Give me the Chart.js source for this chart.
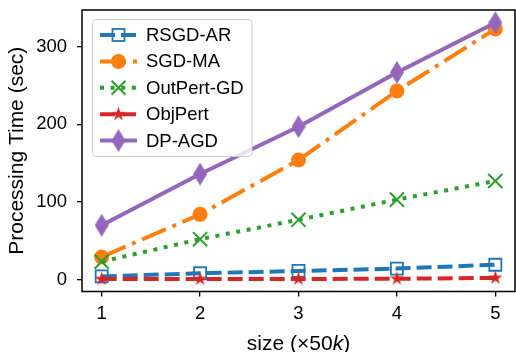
<!DOCTYPE html>
<html>
<head>
<meta charset="utf-8">
<script src="https://cdn.jsdelivr.net/npm/chart.js@4.4.1/dist/chart.umd.min.js"></script>
<style>
  body { margin: 0; background: #fff; }
  #wrap { width: 516px; height: 352px; }
</style>
</head>
<body>
<div id="wrap"><canvas id="timeChart" width="516" height="352"></canvas></div>
<script>
// data
var sizes = [1, 2, 3, 4, 5];
var xTicks = [1, 2, 3, 4, 5];
var yTicks = [0, 100, 200, 300];
var seriesNames = ['RSGD-AR', 'SGD-MA', 'OutPert-GD', 'ObjPert', 'DP-AGD'];
var rsgdAr = [4, 8, 11, 14, 19];
var sgdMa = [29, 84, 154, 243, 323];
var outPertGd = [23, 52, 77, 103, 127];
var objPert = [0.5, 0.6, 0.7, 0.9, 2];
var dpAgd = [70, 136, 197, 267, 331];

var FONT = '"Liberation Sans", Arial, Helvetica, sans-serif';
var colors = ['#1f77b4', '#ff7f0e', '#2ca02c', '#d62728', '#9467bd'];
var dashes = [[15, 6], [26, 7, 4, 7], [4, 6.6], [15, 6], []];

// filled star marker (matplotlib '*')
function makeStar(color, r){
	var s = Math.ceil(2 * r + 2);
	var c = document.createElement('canvas');
	c.width = s; c.height = s;
	var g = c.getContext('2d');
	g.fillStyle = color;
	g.beginPath();
	for (var i = 0; i < 10; i++) {
		var rad = (i % 2 == 0) ? r : r * 0.382;
		var a = -Math.PI / 2 + i * Math.PI / 5;
		var px = s / 2 + rad * Math.cos(a), py = s / 2 + rad * Math.sin(a);
		if (i == 0) g.moveTo(px, py); else g.lineTo(px, py);
	}
	g.closePath();
	g.fill();
	return c;
}
// thin diamond marker (matplotlib 'd')
function makeDiamond(color, w, h){
	var c = document.createElement('canvas');
	c.width = w; c.height = h;
	var g = c.getContext('2d');
	g.fillStyle = color;
	g.beginPath();
	g.moveTo(w / 2, 0); g.lineTo(w, h / 2); g.lineTo(w / 2, h); g.lineTo(0, h / 2);
	g.closePath();
	g.fill();
	return c;
}
var starImg = makeStar(colors[3], 7.5);
var diamondImg = makeDiamond(colors[4], 14, 23);

function toPts(ys){
	return sizes.map(function(x, i){ return {x: x, y: ys[i]}; });
}

var chartData = {
	datasets: [
		{label: seriesNames[0], data: toPts(rsgdAr), borderColor: colors[0], borderDash: dashes[0],
		 pointStyle: 'rect', pointRadius: 8.5, pointBorderWidth: 1.8, pointBackgroundColor: 'rgba(0,0,0,0)', pointBorderColor: colors[0], order: 5},
		{label: seriesNames[1], data: toPts(sgdMa), borderColor: colors[1], borderDash: dashes[1],
		 pointStyle: 'circle', pointRadius: 7.5, pointBorderWidth: 0, pointBackgroundColor: colors[1], order: 4},
		{label: seriesNames[2], data: toPts(outPertGd), borderColor: colors[2], borderDash: dashes[2],
		 pointStyle: 'crossRot', pointRadius: 10, pointBorderWidth: 2, pointBorderColor: colors[2], order: 3},
		{label: seriesNames[3], data: toPts(objPert), borderColor: colors[3], borderDash: dashes[3],
		 pointStyle: starImg, pointRadius: 8, order: 2},
		{label: seriesNames[4], data: toPts(dpAgd), borderColor: colors[4], borderDash: dashes[4],
		 pointStyle: diamondImg, pointRadius: 12, order: 1}
	]
};
chartData.datasets.forEach(function(d){
	d.borderWidth = 4;
	d.fill = false;
	d.tension = 0;
	d.borderCapStyle = 'butt';
	d.borderJoinStyle = 'round';
});

function drawMarker(ctx, i, x, y){
	ctx.save();
	ctx.setLineDash([]);
	if (i == 0) {
		ctx.strokeStyle = colors[0]; ctx.lineWidth = 1.8;
		ctx.strokeRect(x - 6, y - 6, 12, 12);
	} else if (i == 1) {
		ctx.fillStyle = colors[1];
		ctx.beginPath(); ctx.arc(x, y, 7.5, 0, Math.PI * 2); ctx.fill();
	} else if (i == 2) {
		ctx.strokeStyle = colors[2]; ctx.lineWidth = 2;
		ctx.beginPath();
		ctx.moveTo(x - 7, y - 7); ctx.lineTo(x + 7, y + 7);
		ctx.moveTo(x + 7, y - 7); ctx.lineTo(x - 7, y + 7);
		ctx.stroke();
	} else if (i == 3) {
		ctx.drawImage(starImg, x - starImg.width / 2, y - starImg.height / 2);
	} else {
		ctx.drawImage(diamondImg, x - diamondImg.width / 2, y - diamondImg.height / 2);
	}
	ctx.restore();
}

// frame, x title with italic k, and legend box
var extrasPlugin = {
	id: 'extras',
	afterDatasetsDraw: function(chart){
		var ctx = chart.ctx, a = chart.chartArea;
		ctx.save();
		ctx.strokeStyle = '#000';
		ctx.lineWidth = 1.5;
		ctx.strokeRect(a.left, a.top, a.right - a.left, a.bottom - a.top);
		ctx.restore();
	},
	afterDraw: function(chart){
		var ctx = chart.ctx, a = chart.chartArea;
		ctx.save();
		// x axis title
		var parts = [['size (\u00d750', '21px ' + FONT], ['k', 'italic 21px ' + FONT], [')', '21px ' + FONT]];
		var total = 0;
		parts.forEach(function(p){ ctx.font = p[1]; total += ctx.measureText(p[0]).width; });
		var tx = (a.left + a.right) / 2 - total / 2;
		ctx.fillStyle = '#000';
		ctx.textBaseline = 'alphabetic';
		parts.forEach(function(p){
			ctx.font = p[1];
			ctx.fillText(p[0], tx, 350);
			tx += ctx.measureText(p[0]).width;
		});
		// legend
		var bx = 92.5, by = 19.5, bw = 159.5, bh = 137, rr = 4;
		ctx.beginPath();
		ctx.moveTo(bx + rr, by);
		ctx.arcTo(bx + bw, by, bx + bw, by + bh, rr);
		ctx.arcTo(bx + bw, by + bh, bx, by + bh, rr);
		ctx.arcTo(bx, by + bh, bx, by, rr);
		ctx.arcTo(bx, by, bx + bw, by, rr);
		ctx.closePath();
		ctx.fillStyle = 'rgba(255,255,255,0.8)';
		ctx.fill();
		ctx.strokeStyle = '#cccccc';
		ctx.lineWidth = 1;
		ctx.stroke();
		for (var i = 0; i < seriesNames.length; i++) {
			var ry = 35 + i * 26.4;
			ctx.save();
			ctx.strokeStyle = colors[i];
			ctx.lineWidth = 4;
			ctx.lineCap = 'butt';
			ctx.setLineDash(dashes[i]);
			ctx.beginPath();
			ctx.moveTo(100, ry); ctx.lineTo(137, ry);
			ctx.stroke();
			ctx.restore();
			drawMarker(ctx, i, 118.5, ry);
			ctx.fillStyle = '#000';
			ctx.font = '18.5px ' + FONT;
			ctx.textBaseline = 'middle';
			ctx.fillText(seriesNames[i], 146, ry + 1);
		}
		ctx.restore();
	}
};

var tickGrid = {display: true, drawOnChartArea: false, drawTicks: true, tickLength: 5, color: '#000', lineWidth: 1.3};

var ctx = document.getElementById('timeChart').getContext('2d');
new Chart(ctx, {
	type: 'line',
	data: chartData,
	plugins: [extrasPlugin],
	options: {
		responsive: false,
		animation: false,
		layout: {autoPadding: false, padding: {left: 0, top: 10, right: 1, bottom: 0}},
		plugins: {legend: {display: false}, tooltip: {enabled: false}},
		scales: {
			x: {
				type: 'linear', min: 0.8, max: 5.2,
				afterBuildTicks: function(s){ s.ticks = xTicks.map(function(v){ return {value: v}; }); },
				afterFit: function(s){ s.height = 60.5; s.paddingLeft = 0; s.paddingRight = 0; },
				grid: tickGrid,
				border: {display: false},
				ticks: {color: '#000', font: {family: FONT, size: 18.5}, padding: 6, maxRotation: 0}
			},
			y: {
				type: 'linear', min: -15.5, max: 347.5,
				afterBuildTicks: function(s){ s.ticks = yTicks.map(function(v){ return {value: v}; }); },
				afterFit: function(s){ s.width = 82; s.paddingTop = 0; s.paddingBottom = 0; },
				grid: tickGrid,
				border: {display: false},
				ticks: {color: '#000', font: {family: FONT, size: 18.5}, padding: 10},
				title: {display: true, text: 'Processing Time (sec)', color: '#000',
				        font: {family: FONT, size: 21}, padding: {top: 5, bottom: 0}}
			}
		}
	}
});
</script>
</body>
</html>
